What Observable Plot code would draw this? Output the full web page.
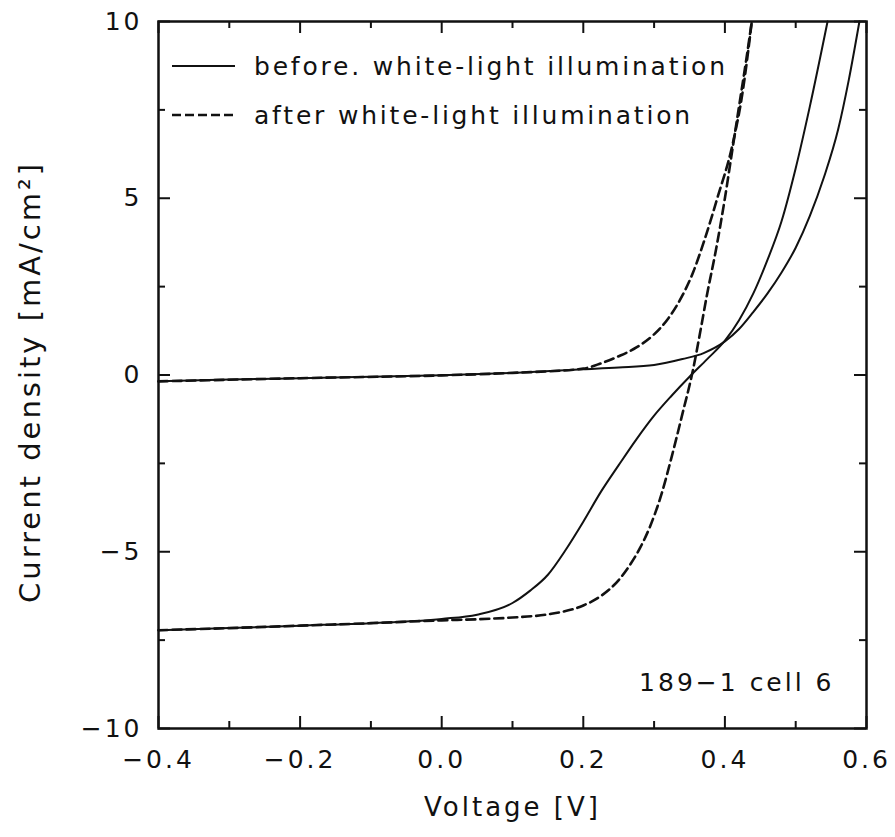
<!DOCTYPE html>
<html><head><meta charset="utf-8">
<script src="https://cdn.jsdelivr.net/npm/d3@7"></script>
<script src="https://cdn.jsdelivr.net/npm/@observablehq/plot@0.6"></script>
<style>
html,body{margin:0;padding:0;background:#fff;}
#wrap{position:relative;width:895px;height:837px;}
#chart svg text{letter-spacing:3px;}
#chart g[aria-label="ylabel"] text{letter-spacing:1px;}
#chart g[aria-label="xlabel"] text{letter-spacing:1.5px;}
.leg{position:absolute;left:172px;height:40px;display:flex;align-items:center;font-family:"DejaVu Sans";font-size:25px;letter-spacing:2.8px;color:#111;white-space:nowrap;}
.leg svg{margin-right:19px;}
</style></head><body>
<div id="wrap">
<div id="chart"></div>
<div class="leg" id="leg1" style="top:46px;"></div>
<div class="leg" id="leg2" style="top:95px;"></div>
</div>
<script>
// ---- data ----
const legendLabels = ["before. white-light illumination", "after white-light illumination"];

// before illumination, dark (solid)
const vBeforeDark = [-0.4, -0.3, -0.2, -0.1, 0.0, 0.1, 0.2, 0.25, 0.3, 0.34, 0.37, 0.40, 0.42, 0.44, 0.46, 0.48, 0.50, 0.52, 0.54, 0.56, 0.575, 0.59];
const jBeforeDark = [-0.18, -0.13, -0.09, -0.05, -0.01, 0.06, 0.16, 0.21, 0.28, 0.45, 0.62, 0.95, 1.3, 1.78, 2.3, 2.9, 3.6, 4.5, 5.6, 6.95, 8.35, 10];

// before illumination, illuminated (solid)
const vBeforeLight = [-0.4, -0.3, -0.2, -0.1, 0.0, 0.05, 0.1, 0.125, 0.15, 0.175, 0.2, 0.225, 0.25, 0.275, 0.3, 0.325, 0.35, 0.375, 0.40, 0.42, 0.44, 0.46, 0.48, 0.50, 0.52, 0.545];
const jBeforeLight = [-7.22, -7.16, -7.09, -7.02, -6.9, -6.78, -6.45, -6.1, -5.65, -4.95, -4.15, -3.3, -2.55, -1.82, -1.15, -0.58, -0.05, 0.45, 0.97, 1.55, 2.3, 3.25, 4.35, 5.85, 7.6, 10];

// after illumination, dark (dashed)
const vAfterDark = [-0.4, -0.2, 0.0, 0.1, 0.2, 0.225, 0.25, 0.275, 0.3, 0.32, 0.34, 0.355, 0.37, 0.39, 0.41, 0.425, 0.438];
const jAfterDark = [-0.18, -0.09, -0.01, 0.06, 0.18, 0.33, 0.53, 0.78, 1.15, 1.6, 2.25, 2.9, 3.75, 5.05, 6.45, 8.0, 10];

// after illumination, illuminated (dashed)
const vAfterLight = [-0.4, -0.3, -0.2, -0.1, 0.0, 0.05, 0.1, 0.15, 0.2, 0.225, 0.25, 0.265, 0.28, 0.295, 0.31, 0.325, 0.34, 0.355, 0.365, 0.375, 0.387, 0.40, 0.41, 0.42, 0.43, 0.438];
const jAfterLight = [-7.22, -7.16, -7.09, -7.02, -6.94, -6.91, -6.86, -6.77, -6.52, -6.25, -5.8, -5.4, -4.9, -4.25, -3.4, -2.3, -1.1, 0.15, 1.2, 2.3, 3.5, 5.0, 6.3, 7.6, 8.9, 10];

// axes
const xMajor = [-0.4, -0.2, 0.0, 0.2, 0.4, 0.6];
const xMinor = [-0.3, -0.1, 0.1, 0.3, 0.5];
const xTickLabels = ["\u22120.4", "\u22120.2", "0.0", "0.2", "0.4", "0.6"];
const yMajor = [-10, -5, 0, 5, 10];
const yMinor = [-7.5, -2.5, 2.5, 7.5];
const yTickLabels = ["\u221210", "\u22125", "0", "5", "10"];
const xTitle = "Voltage [V]";
const yTitle = "Current density [mA/cm\u00b2]";
const sampleLabel = "189\u22121 cell 6";

// ---- build ----
const pts = (vs, js) => vs.map((v, i) => ({v, j: js[i]}));
const W = 895, H = 837, mL = 158, mR = 29, mT = 21, mB = 109;
const innerH = H - mT - mB, innerW = W - mL - mR;
const ink = "#111";
const majLen = 12, minLen = 7;

const tickXMark = (vals, len, side) => Plot.tickX(vals, {x: d => d, stroke: ink, strokeWidth: 2,
  insetTop: side === "bottom" ? innerH - len : 0, insetBottom: side === "top" ? innerH - len : 0});
const tickYMark = (vals, len, side) => Plot.tickY(vals, {y: d => d, stroke: ink, strokeWidth: 2,
  insetRight: side === "left" ? innerW - len : 0, insetLeft: side === "right" ? innerW - len : 0});
const curve = "monotone-x";

const plot = Plot.plot({
  width: W, height: H,
  marginLeft: mL, marginRight: mR, marginTop: mT, marginBottom: mB,
  x: {domain: [-0.4, 0.6], axis: null},
  y: {domain: [-10, 10], axis: null},
  style: {fontFamily: "DejaVu Sans", fontSize: "25px", color: ink, background: "#fff"},
  marks: [
    tickXMark(xMajor, majLen, "bottom"), tickXMark(xMajor, majLen, "top"),
    tickXMark(xMinor, minLen, "bottom"), tickXMark(xMinor, minLen, "top"),
    tickYMark(yMajor, majLen, "left"), tickYMark(yMajor, majLen, "right"),
    tickYMark(yMinor, minLen, "left"), tickYMark(yMinor, minLen, "right"),
    Plot.line(pts(vBeforeDark, jBeforeDark), {x: "v", y: "j", stroke: ink, strokeWidth: 2, curve}),
    Plot.line(pts(vBeforeLight, jBeforeLight), {x: "v", y: "j", stroke: ink, strokeWidth: 2, curve}),
    Plot.line(pts(vAfterDark, jAfterDark), {x: "v", y: "j", stroke: ink, strokeWidth: 2.6, strokeDasharray: "9,5", curve}),
    Plot.line(pts(vAfterLight, jAfterLight), {x: "v", y: "j", stroke: ink, strokeWidth: 2.6, strokeDasharray: "9,5", curve}),
    Plot.frame({stroke: ink, strokeWidth: 2.5}),
    Plot.text(xMajor, {x: d => d, text: (d, i) => xTickLabels[i], frameAnchor: "bottom", dy: 31, lineAnchor: "middle", fill: ink}),
    Plot.text(yMajor, {y: d => d, text: (d, i) => yTickLabels[i], frameAnchor: "left", dx: -16, textAnchor: "end", lineAnchor: "middle", fill: ink}),
    Plot.text([xTitle], {text: d => d, frameAnchor: "bottom", dy: 79, lineAnchor: "middle", fontSize: 26, fill: ink, ariaLabel: "xlabel"}),
    Plot.text([yTitle], {text: d => d, frameAnchor: "left", dx: -128, dy: 7, rotate: -90, textAnchor: "middle", lineAnchor: "middle", fontSize: 29, fill: ink, ariaLabel: "ylabel"}),
    Plot.text([sampleLabel], {text: d => d, frameAnchor: "bottom-right", dx: -32, dy: -46, textAnchor: "end", lineAnchor: "middle", fill: ink})
  ]
});
document.getElementById("chart").appendChild(plot);

// legend
function legendRow(id, dashed, label) {
  const el = document.getElementById(id);
  el.innerHTML = `<svg width="63" height="6"><line x1="0" y1="3" x2="63" y2="3" stroke="${ink}" stroke-width="${dashed ? 2.6 : 2}" ${dashed ? 'stroke-dasharray="9,4"' : ''}/></svg><span>${label}</span>`;
}
legendRow("leg1", false, legendLabels[0]);
legendRow("leg2", true, legendLabels[1]);
</script>
</body></html>
